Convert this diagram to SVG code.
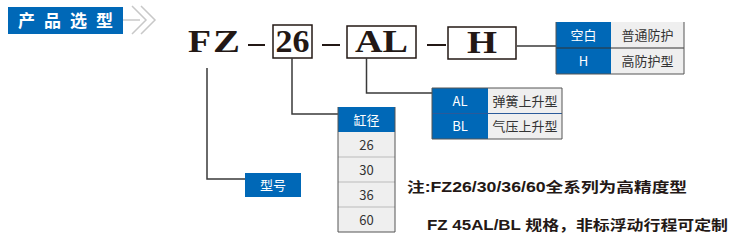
<svg xmlns="http://www.w3.org/2000/svg" width="736" height="239" viewBox="0 0 736 239">
<style>
.blue{fill:#0068b7}
.gray{fill:#efefef}
.ln{stroke:#3a3a3a;stroke-width:1.5;fill:none}
.bx{stroke:#231815;stroke-width:1.5;fill:#fff}
.big{font-family:"Liberation Serif",serif;font-weight:bold;fill:#231815;font-size:32px}
.w{font-family:"Noto Sans CJK SC","Noto Sans",sans-serif;font-size:13px;fill:#fff;text-anchor:middle}
.d{font-family:"Noto Sans CJK SC","Noto Sans",sans-serif;font-size:13px;fill:#333;text-anchor:middle}
.note{font-family:"Liberation Sans","Noto Sans CJK SC",sans-serif;font-weight:bold;font-size:14px;fill:#231815}
.sep{stroke:#bbb;stroke-width:1}
</style>
<rect width="736" height="239" fill="#fff"/>
<g id="header">
<rect x="8" y="7" width="115" height="27" class="blue"/>
<text x="18" y="27" font-family="Noto Sans CJK SC,sans-serif" font-weight="bold" font-size="17" fill="#fff" textLength="95" lengthAdjust="spacing">产品选型</text>
<path d="M123 20H140" stroke="#c8c8c8" stroke-width="1.5" fill="none"/>
<path d="M132 6L146 20L132 34M141 6L155 20L141 34" stroke="#c8c8c8" stroke-width="1.5" fill="none"/>
</g>
<g id="model">
<text x="188" y="52" class="big" textLength="23" lengthAdjust="spacingAndGlyphs">F</text>
<text x="213" y="52" class="big" textLength="27" lengthAdjust="spacingAndGlyphs">Z</text>
<rect x="273" y="25" width="39" height="33" class="bx"/>
<text x="275.5" y="52" class="big" textLength="34" lengthAdjust="spacingAndGlyphs">26</text>
<rect x="347" y="26" width="69" height="32" class="bx"/>
<text x="355" y="52" class="big" textLength="53" lengthAdjust="spacingAndGlyphs">AL</text>
<rect x="448" y="27" width="68" height="32" class="bx"/>
<text x="467" y="53" class="big" textLength="30" lengthAdjust="spacingAndGlyphs">H</text>
</g>
<g id="connectors">
<path d="M248 45H265M322 45H340M427 45H446" stroke="#231815" stroke-width="2"/>
<path d="M517 46H556" class="ln"/>
<path d="M207 68V179H245" class="ln"/>
<path d="M292 58V114H338" class="ln"/>
<path d="M366.5 58V93H432" class="ln"/>
</g>
<g id="protection">
<rect x="556" y="22" width="55" height="52" class="blue"/>
<rect x="611" y="22" width="73" height="52" class="gray"/>
<path d="M556 48H684" stroke="#333" stroke-width="1"/>
<path d="M556 22V74M684 22V74M556 74H684" stroke="#555" stroke-width="1"/>
<text x="583.5" y="40" class="w">空白</text>
<text x="583.5" y="66" class="w">H</text>
<text x="647.5" y="40" class="d">普通防护</text>
<text x="647.5" y="66" class="d">高防护型</text>
</g>
<g id="lift">
<rect x="432" y="88" width="56" height="51" class="blue"/>
<rect x="488" y="88" width="74" height="51" class="gray"/>
<path d="M432 113.5H562" stroke="#2a5a9a" stroke-width="1"/>
<path d="M432 88V139M562 88V139M432 139H562M432 88H562" stroke="#555" stroke-width="1"/>
<text x="460" y="106" class="w">AL</text>
<text x="460" y="131" class="w">BL</text>
<text x="525" y="106" class="d">弹簧上升型</text>
<text x="525" y="131" class="d">气压上升型</text>
</g>
<g id="bore">
<rect x="338" y="107" width="57" height="25" class="blue"/>
<rect x="338" y="132" width="57" height="100" class="gray"/>
<path d="M338 157H395M338 182H395M338 207H395" class="sep"/>
<path d="M338 107V232M395 107V232M338 232H395" stroke="#555" stroke-width="1"/>
<text x="366.5" y="125" class="w">缸径</text>
<text x="366.5" y="150" class="d">26</text>
<text x="366.5" y="175" class="d">30</text>
<text x="366.5" y="200" class="d">36</text>
<text x="366.5" y="225" class="d">60</text>
</g>
<g id="type">
<rect x="245" y="173" width="56" height="24" class="blue"/>
<text x="273" y="190" class="w">型号</text>
</g>
<g id="notes">
<text x="407" y="192" class="note" textLength="280" lengthAdjust="spacingAndGlyphs">注:FZ26/30/36/60全系列为高精度型</text>
<text x="427" y="230" class="note" textLength="301" lengthAdjust="spacingAndGlyphs">FZ 45AL/BL 规格，非标浮动行程可定制</text>
</g>
</svg>
